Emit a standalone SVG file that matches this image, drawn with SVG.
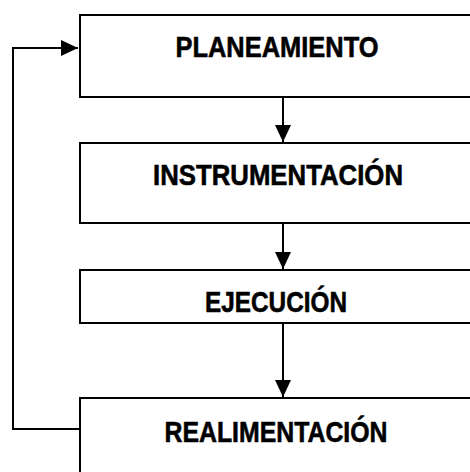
<svg xmlns="http://www.w3.org/2000/svg" width="470" height="472" viewBox="0 0 470 472">
<defs>
<style>
.box{fill:#fff;stroke:#000;stroke-width:2}
.lbl{font-family:"Liberation Sans",Arial,sans-serif;font-weight:bold;font-size:30px;fill:#000;stroke:#000;stroke-width:0.6;text-anchor:middle}
.con{fill:none;stroke:#000;stroke-width:2}
</style>
<marker id="ah" viewBox="0 0 17 16" markerWidth="17" markerHeight="16" refX="17" refY="8" orient="auto" markerUnits="userSpaceOnUse">
<path d="M0,0 L17,8 L0,16 Z" fill="#000"/>
</marker>
</defs>
<rect width="470" height="472" fill="#fff"/>
<g id="n1"><rect class="box" x="80" y="15" width="400" height="82"/><text class="lbl" x="277" y="57" textLength="203" lengthAdjust="spacingAndGlyphs">PLANEAMIENTO</text></g>
<g id="n2"><rect class="box" x="80" y="143" width="400" height="80"/><text class="lbl" x="278" y="185" textLength="250" lengthAdjust="spacingAndGlyphs">INSTRUMENTACIÓN</text></g>
<g id="n3"><rect class="box" x="80" y="270" width="400" height="53"/><text class="lbl" x="276" y="312" textLength="142" lengthAdjust="spacingAndGlyphs">EJECUCIÓN</text></g>
<g id="n4"><rect class="box" x="80" y="398" width="400" height="90"/><text class="lbl" x="276" y="442" textLength="223" lengthAdjust="spacingAndGlyphs">REALIMENTACIÓN</text></g>
<g id="connectors">
<path class="con" d="M283,97 V142" marker-end="url(#ah)"/>
<path class="con" d="M283,223 V269" marker-end="url(#ah)"/>
<path class="con" d="M283,323 V397" marker-end="url(#ah)"/>
<path class="con" d="M80,429 H13 V48 H78" marker-end="url(#ah)"/>
</g>
</svg>
